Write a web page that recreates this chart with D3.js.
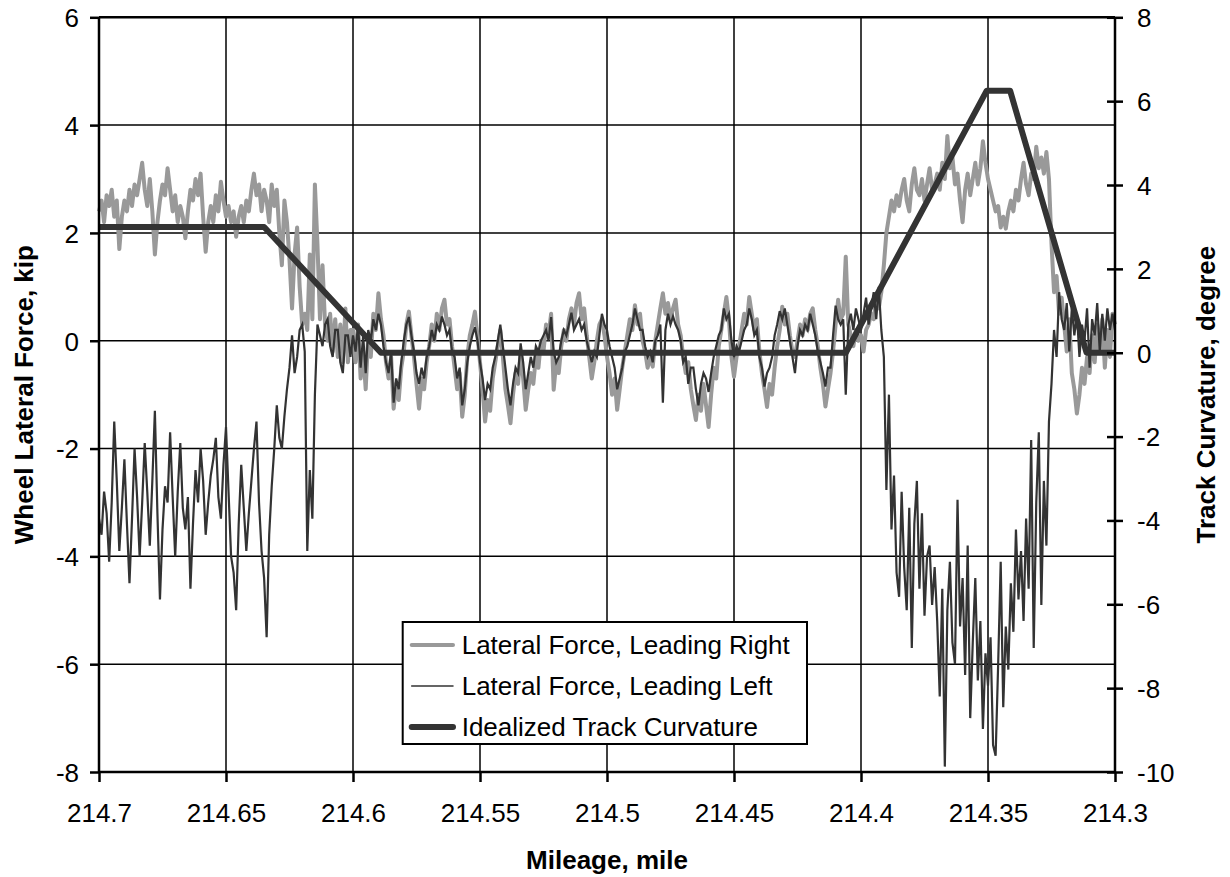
<!DOCTYPE html>
<html>
<head>
<meta charset="utf-8">
<script src="https://cdn.jsdelivr.net/npm/d3@7"></script>
<style>
  body { margin: 0; background: #fff; }
  svg text { font-family: "Liberation Sans", Arial, sans-serif; fill: #000; }
</style>
</head>
<body>
<div class="canvas"></div>
<script>
// force records are read every 0.001 mile, starting at 214.7 and running down to 214.3
const mileStart = 214.7;
const mileStep = 0.001;

// lateral force, leading right wheel (kip)
const rightForce = [
  2.4, 2.6, 2.2, 2.7, 2.5, 2.8, 2.3, 2.6, 1.7, 2.3,
  2.6, 2.4, 2.8, 2.5, 2.9, 2.7, 3.0, 3.3, 2.8, 2.5,
  3.0, 2.4, 1.6, 2.2, 2.6, 2.9, 2.7, 3.2, 2.8, 2.4,
  2.7, 2.2, 2.5, 2.3, 1.9, 2.4, 2.8, 2.6, 3.0, 2.7,
  3.1, 2.3, 1.65, 2.2, 2.5, 2.2, 2.7, 2.4, 2.95, 2.6,
  2.3, 2.5, 2.2, 2.4, 1.93, 2.3, 2.5, 2.2, 2.6, 2.4,
  2.8, 3.1, 2.7, 2.9, 2.4, 2.8, 2.6, 2.2, 2.9, 2.5,
  2.8, 2.0, 1.4, 2.6, 2.2, 1.5, 0.6, 1.6, 2.1, 1.0,
  0.3, 0.5, 0.2, 1.6, 0.4, 2.9, 1.8, 0.4, 1.4, 0.3,
  0.0, 0.5, -0.2, 0.4, -0.3, 0.3, -0.4, 0.6, -0.4, 0.2,
  0.2, -0.4, 0.3, -0.7, -0.2, -0.9, 0.1, -0.3, 0.5, 0.2,
  0.88, 0.4, 0.1, -0.4, -0.7, -0.3, -1.26, -0.8, -1.1, -0.5,
  -0.2, 0.3, 0.54, 0.1, -0.3, -0.8, -1.26, -0.7, -0.9, -0.4,
  -0.1, 0.3, 0.0, 0.5, 0.2, 0.6, 0.76, 0.3, 0.4, -0.1,
  -0.5, -0.9, -0.6, -1.41, -1.0, -0.3, 0.1, 0.3, 0.54, 0.1,
  -0.4, -0.9, -1.5, -1.1, -1.3, -0.7, -0.4, -0.1, 0.2, -0.3,
  -0.9, -1.2, -1.53, -1.0, -0.6, -0.8, -0.2, -0.7, -1.28, -0.9,
  -0.6, -0.8, -0.3, -0.5, 0.0, -0.2, 0.3, 0.1, 0.5, -0.91,
  -0.4, -0.6, -0.1, 0.2, 0.0, 0.4, 0.6, 0.3, 0.7, 0.88,
  0.4, 0.6, 0.1, -0.3, -0.7, -0.4, 0.0, 0.3, 0.4, 0.1,
  -0.3, -0.6, -1.0, -0.7, -1.28, -0.9, -0.5, -0.2, 0.1, 0.4,
  0.2, 0.66, 0.3, 0.5, 0.0, -0.2, -0.5, -0.3, -0.48, 0.0,
  0.3, 0.6, 0.88, 0.5, 0.7, 0.4, 0.6, 0.76, 0.3, 0.1,
  -0.3, -0.6, -0.4, -0.9, -1.2, -1.47, -1.0, -1.3, -0.8, -1.2,
  -1.6, -1.0, -0.5, -0.7, -0.1, 0.2, 0.5, 0.81, 0.4, -0.3,
  -0.67, -0.3, -0.1, 0.2, 0.5, 0.3, 0.81, 0.5, 0.2, 0.4,
  -0.2, -0.6, -0.9, -1.23, -0.8, -1.0, -0.5, -0.1, 0.2, 0.63,
  0.3, 0.5, 0.1, -0.2, -0.3, 0.0, 0.3, 0.1, 0.4, 0.2,
  0.5, 0.6, 0.2, -0.1, -0.5, -0.8, -1.22, -0.9, -0.6, -0.2,
  0.3, 0.76, 0.4, 0.5, 1.56, 0.3, 0.1, -0.1, 0.2, 0.0,
  0.1, -0.2, 0.2, 0.3, 0.5, 0.4, 0.8, 0.6, 0.9, 1.4,
  2.0, 2.3, 2.6, 2.4, 2.7, 2.5, 2.8, 3.0, 2.6, 2.4,
  2.9, 3.2, 2.8, 2.7, 3.0, 2.6, 2.9, 3.2, 2.8, 2.9,
  3.1, 2.8, 3.3, 3.0, 3.8, 3.2, 3.4, 2.9, 3.1, 2.6,
  2.2, 2.8, 3.1, 2.7, 3.0, 3.3, 2.9, 3.2, 3.7, 3.3,
  3.0, 2.8, 2.6, 2.4, 2.5, 2.1, 2.3, 2.08, 2.4, 2.6,
  2.4, 2.8, 2.6, 3.0, 3.3, 2.9, 2.7, 3.1, 3.0, 3.6,
  3.2, 3.4, 3.1, 3.5, 3.0, 1.8, 0.9, 1.2, 0.5, 0.8,
  0.3, -0.2, 0.4, -0.6, -0.9, -1.35, -1.0, -0.5, -0.8, -0.3,
  -0.6, 0.1, -0.4, 0.3, -0.2, 0.4, -0.5, 0.2, -0.3, 0.5,
  0.3
];

// lateral force, leading left wheel (kip)
const leftForce = [
  -3.3, -3.6, -2.8, -3.2, -4.1, -3.0, -1.5, -2.6, -3.9, -3.1,
  -2.2, -3.4, -4.5, -3.3, -2.0, -2.9, -4.0, -3.0, -1.9, -2.8,
  -3.8, -2.6, -1.3, -3.2, -4.8, -3.5, -2.7, -3.0, -1.7, -2.9,
  -4.0, -2.8, -1.9, -3.1, -3.5, -2.9, -4.6, -3.4, -2.4, -3.0,
  -2.0, -2.6, -3.6, -3.0, -2.5, -2.2, -1.8, -2.9, -3.3, -2.3,
  -1.6, -2.8, -4.0, -4.3, -5.0, -3.4, -2.3, -3.1, -3.9, -3.2,
  -2.6, -2.0, -1.5, -3.0, -3.9, -4.4, -5.5, -3.6, -2.7, -2.0,
  -1.2, -1.8, -2.0, -1.4, -0.9, -0.5, 0.1, -0.6, -0.3, 0.2,
  0.3, -0.2, -3.9, -2.4, -3.3, -1.0, 0.3, 0.1, -0.1, 0.3,
  0.4, -0.1, -0.3, 0.2, 0.2, -0.4, -0.6, 0.1, 0.1, -0.3,
  0.1, -0.2, 0.3, -0.5, 0.1, -0.6, 0.2, 0.0, 0.4, 0.2,
  0.5, 0.3, -0.1, -0.4, -0.6, -0.2, -1.15, -0.7, -0.9, -0.4,
  0.0, 0.3, 0.44, 0.1, -0.2, -0.6, -0.8, -0.5, -0.7, -0.3,
  -0.1, 0.2, 0.0, 0.3, 0.2, 0.45, 0.3, 0.1, 0.2, -0.2,
  -0.3, -0.7, -0.5, -1.2, -0.9, -0.4, -0.1, 0.1, 0.25, 0.0,
  -0.4, -0.7, -1.1, -0.8, -0.9, -0.5, -0.3, 0.0, 0.3, -0.1,
  -0.5, -0.9, -1.2, -0.8, -0.5, -0.6, -0.05, -0.4, -0.9, -0.6,
  -0.3, -0.5, -0.1, -0.2, 0.0, 0.1, 0.2, 0.0, 0.44, -0.2,
  -0.4, -0.3, 0.0, 0.2, 0.1, 0.3, 0.52, 0.2, 0.3, 0.4,
  0.2, 0.3, 0.0, -0.2, -0.4, -0.2, -0.3, 0.1, 0.5, 0.3,
  0.2, -0.1, -0.3, -0.5, -0.9, -0.7, -0.5, -0.2, -0.1, 0.1,
  0.3, 0.6, 0.4, 0.2, 0.2, -0.1, -0.3, -0.2, -0.4, 0.0,
  0.1, 0.3, -1.15, 0.2, 0.5, 0.3, 0.45, 0.3, 0.2, 0.0,
  -0.4, -0.3, -0.8, -0.5, -0.5, -0.9, -1.2, -0.8, -0.6, -0.7,
  -0.95, -0.6, -0.3, -0.1, 0.1, 0.2, 0.6, 0.4, 0.5, 0.0,
  -0.3, -0.1, -0.2, 0.0, 0.2, 0.3, 0.6, 0.4, 0.1, 0.2,
  -0.3, -0.5, -0.85, -0.6, -0.5, -0.3, 0.1, 0.3, 0.55, 0.4,
  0.6, 0.3, 0.0, -0.3, -0.6, -0.1, 0.2, 0.1, 0.3, 0.2,
  0.5, 0.3, 0.1, -0.2, -0.4, -0.6, -0.85, -0.5, -0.5, 0.1,
  0.65, 0.4, 0.3, 0.4, -1.0, 0.3, 0.5, 0.2, 0.6, 0.4,
  0.2, 0.5, 0.8, 0.3, 0.6, 0.9, 0.4, 1.0, 0.2, -0.3,
  -2.77, -1.0, -3.5, -2.5, -4.3, -4.75, -2.8, -4.2, -5.0, -3.1,
  -5.7, -3.4, -2.6, -4.6, -3.2, -5.1, -4.0, -3.8, -4.9, -4.2,
  -5.2, -6.6, -4.6, -7.9, -5.0, -4.1, -5.6, -6.0, -2.95, -5.3,
  -4.4, -6.2, -3.8, -7.0, -5.6, -4.4, -6.3, -5.2, -7.2, -5.8,
  -6.4, -5.5, -7.5, -7.7, -6.0, -4.1, -6.8, -5.3, -6.1, -4.5,
  -5.4, -3.5, -4.8, -3.9, -5.2, -3.3, -4.6, -1.84, -5.7, -3.0,
  -1.7, -4.9, -2.6, -3.8, -1.5, -0.8, 0.2, -0.3, 0.9, 0.4,
  0.2, 0.7, -0.2, 0.6, 0.1, 0.5, -0.3, 0.3, 0.0, 0.6,
  -0.5, 0.4, 0.1, 0.7, -0.2, 0.5, 0.0, 0.6, 0.2, 0.5,
  0.2
];

// idealized track curvature (degree), break points
const curveMile = [214.7, 214.635, 214.589, 214.406, 214.3505, 214.3413, 214.3112, 214.3];
const curveDeg = [3, 3, 0, 0, 6.25, 6.25, 0, 0];

// axes
const xTicks = [214.7, 214.65, 214.6, 214.55, 214.5, 214.45, 214.4, 214.35, 214.3];
const leftTicks = [-8, -6, -4, -2, 0, 2, 4, 6];
const rightTicks = [-10, -8, -6, -4, -2, 0, 2, 4, 6, 8];

const legendLabels = ['Lateral Force, Leading Right', 'Lateral Force, Leading Left', 'Idealized Track Curvature'];

const dims = {width: 1230, height: 877};
const plot = {left: 99, right: 1115, top: 17.3, bottom: 772};

const svg = d3.select('.canvas')
	.append('svg')
	.attr('width', dims.width)
	.attr('height', dims.height);

const x = d3.scaleLinear().domain([214.7, 214.3]).range([plot.left, plot.right]);
const yL = d3.scaleLinear().domain([-8, 6]).range([plot.bottom, plot.top]);
const yR = d3.scaleLinear().domain([-10, 8]).range([plot.bottom, plot.top]);

const mileOf = i => mileStart - i * mileStep;

// gridlines
const grid = svg.append('g');
grid.selectAll('.hgrid')
	.data(leftTicks)
	.enter().append('line')
		.attr('x1', plot.left).attr('x2', plot.right)
		.attr('y1', d => yL(d)).attr('y2', d => yL(d))
		.attr('stroke', '#000').attr('stroke-width', 1.5);
grid.selectAll('.vgrid')
	.data(xTicks)
	.enter().append('line')
		.attr('x1', d => x(d)).attr('x2', d => x(d))
		.attr('y1', plot.top).attr('y2', plot.bottom)
		.attr('stroke', '#000').attr('stroke-width', 1.5);

// series
const forceLine = d3.line()
	.x((d, i) => x(mileOf(i)))
	.y(d => yL(d));

svg.append('path')
	.datum(rightForce)
	.attr('fill', 'none')
	.attr('stroke', '#999999')
	.attr('stroke-width', 4)
	.attr('stroke-linejoin', 'round')
	.attr('d', forceLine);

svg.append('path')
	.datum(leftForce)
	.attr('fill', 'none')
	.attr('stroke', '#333333')
	.attr('stroke-width', 2.2)
	.attr('d', forceLine);

svg.append('path')
	.datum(curveDeg)
	.attr('fill', 'none')
	.attr('stroke', '#333333')
	.attr('stroke-width', 6)
	.attr('stroke-linejoin', 'round')
	.attr('d', d3.line()
		.x((d, i) => x(curveMile[i]))
		.y(d => yR(d)));

// axes
const fontSize = 26;

const leftAxis = svg.append('g')
	.attr('transform', `translate(${plot.left},0)`)
	.call(d3.axisLeft(yL).tickValues(leftTicks).tickSize(9).tickPadding(11).tickFormat(d => String(d)));

const bottomAxis = svg.append('g')
	.attr('transform', `translate(0,${plot.bottom})`)
	.call(d3.axisBottom(x).tickValues(xTicks).tickSize(10).tickPadding(22).tickFormat(d => String(d)));

const rightAxis = svg.append('g')
	.attr('transform', `translate(${plot.right},0)`)
	.call(d3.axisRight(yR).tickValues(rightTicks).tickSize(8).tickPadding(14).tickFormat(d => String(d)));

[leftAxis, bottomAxis, rightAxis].forEach(a => {
	a.select('.domain').remove();
	a.selectAll('.tick line').attr('stroke', '#000').attr('stroke-width', 2.5);
	a.selectAll('.tick text')
		.attr('font-size', fontSize)
		.attr('font-family', '"Liberation Sans", Arial, sans-serif')
		.attr('fill', '#000');
});
// right ticks cross the axis
rightAxis.selectAll('.tick line').attr('x1', -8);
leftAxis.selectAll('.tick text').attr('dy', '0.36em');
rightAxis.selectAll('.tick text').attr('dy', '0.36em');
bottomAxis.selectAll('.tick text').attr('dy', '0.71em');

// axis lines
svg.append('line')
	.attr('x1', plot.left).attr('x2', plot.left)
	.attr('y1', plot.top).attr('y2', plot.bottom)
	.attr('stroke', '#000').attr('stroke-width', 2.5);
svg.append('line')
	.attr('x1', plot.right).attr('x2', plot.right)
	.attr('y1', plot.top).attr('y2', plot.bottom)
	.attr('stroke', '#000').attr('stroke-width', 2.5);
svg.append('line')
	.attr('x1', plot.left).attr('x2', plot.right)
	.attr('y1', plot.bottom).attr('y2', plot.bottom)
	.attr('stroke', '#000').attr('stroke-width', 2.5);
svg.append('line')
	.attr('x1', plot.left).attr('x2', plot.right)
	.attr('y1', plot.top).attr('y2', plot.top)
	.attr('stroke', '#000').attr('stroke-width', 2.5);

// axis titles
const midY = (plot.top + plot.bottom) / 2;
svg.append('text')
	.attr('transform', `translate(33,${midY}) rotate(-90)`)
	.attr('text-anchor', 'middle')
	.attr('font-size', fontSize)
	.attr('font-weight', 'bold')
	.text('Wheel Lateral Force, kip');

svg.append('text')
	.attr('transform', `translate(1215,${midY}) rotate(-90)`)
	.attr('text-anchor', 'middle')
	.attr('font-size', fontSize)
	.attr('font-weight', 'bold')
	.text('Track Curvature, degree');

svg.append('text')
	.attr('x', (plot.left + plot.right) / 2)
	.attr('y', 869)
	.attr('text-anchor', 'middle')
	.attr('font-size', fontSize)
	.attr('font-weight', 'bold')
	.text('Mileage, mile');

// legend
const legend = svg.append('g');
legend.append('rect')
	.attr('x', 402.7).attr('y', 622)
	.attr('width', 404.3).attr('height', 122)
	.attr('fill', '#fff')
	.attr('stroke', '#000').attr('stroke-width', 2);

const legendStyle = [
	{stroke: '#999999', width: 4},
	{stroke: '#333333', width: 1.5},
	{stroke: '#333333', width: 6}
];

const rows = legend.selectAll('.row')
	.data(legendLabels)
	.enter().append('g')
		.attr('class', 'row')
		.attr('transform', (d, i) => `translate(0,${645 + i * 41})`);

rows.append('line')
	.attr('x1', 411.7).attr('x2', 453)
	.attr('stroke', (d, i) => legendStyle[i].stroke)
	.attr('stroke-width', (d, i) => legendStyle[i].width)
	.attr('stroke-linecap', 'round');

rows.append('text')
	.attr('x', 461.7)
	.attr('dy', '0.36em')
	.attr('font-size', fontSize)
	.text(d => d);
</script>
</body>
</html>
